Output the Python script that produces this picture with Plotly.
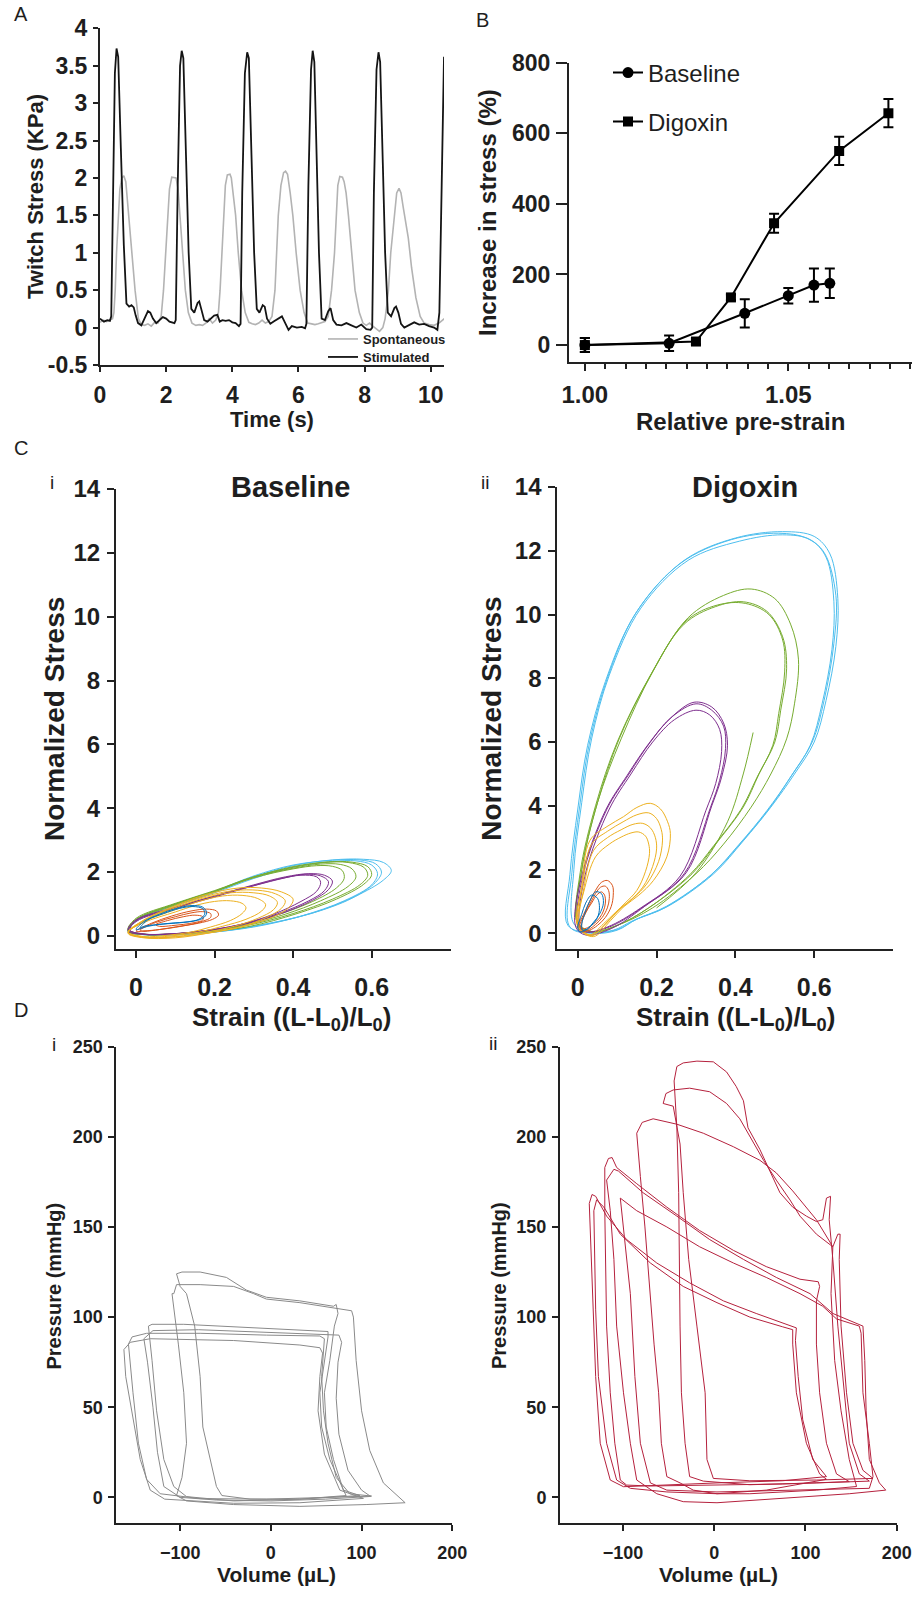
import plotly.graph_objects as go

W, H = 914, 1608
FONT = "Liberation Sans, Arial, sans-serif"
TXT = "#1e1e1e"
AX = "#222222"

# ---------------- Panel A : twitch stress vs time ----------------
stim_pts = [(0,0.12),(0.12,0.08),(0.22,0.1),(0.3,0.09),(0.34,0.15),(0.4,1.9),(0.45,3.4),(0.5,3.73),(0.55,3.62),(0.63,2.4),(0.72,1.1),(0.8,0.32),(0.88,0.28),(0.95,0.3),(1.02,0.27),(1.08,0.16),(1.15,0.06),(1.25,0.03),(1.35,0.12),(1.45,0.22),(1.52,0.2),(1.6,0.12),(1.7,0.06),(1.8,0.1),(1.9,0.14),(2.0,0.12),(2.1,0.08),(2.25,0.06),
            (2.29,0.1),(2.35,1.9),(2.42,3.5),(2.47,3.7),(2.52,3.6),(2.6,2.3),(2.68,1.0),(2.76,0.25),(2.85,0.2),(2.95,0.33),(3.0,0.35),(3.06,0.25),(3.15,0.1),(3.25,0.08),(3.35,0.12),(3.45,0.16),(3.55,0.17),(3.62,0.08),(3.7,0.1),(3.8,0.09),(3.9,0.1),(4.0,0.07),(4.1,0.06),(4.2,0.02),
            (4.25,0.05),(4.3,1.8),(4.38,3.4),(4.45,3.68),(4.5,3.6),(4.58,2.3),(4.66,1.0),(4.74,0.25),(4.82,0.2),(4.92,0.3),(4.98,0.28),(5.05,0.12),(5.15,0.05),(5.25,0.08),(5.4,0.12),(5.5,0.15),(5.6,0.06),(5.7,-0.03),(5.8,0.02),(5.95,0.0),(6.1,0.01),(6.2,-0.01),
            (6.24,0.05),(6.3,1.9),(6.38,3.45),(6.43,3.7),(6.48,3.55),(6.55,2.2),(6.62,1.0),(6.7,0.12),(6.8,0.1),(6.9,0.22),(6.97,0.26),(7.05,0.1),(7.15,0.04),(7.3,0.03),(7.45,0.06),(7.6,0.03),(7.75,0.0),(7.9,0.04),(8.05,-0.02),(8.18,-0.03),
            (8.23,0.0),(8.28,1.8),(8.36,3.45),(8.42,3.68),(8.47,3.55),(8.55,2.2),(8.62,1.0),(8.7,0.2),(8.8,0.15),(8.9,0.26),(8.95,0.28),(9.02,0.2),(9.1,0.05),(9.2,0.0),(9.35,0.04),(9.5,0.07),(9.65,0.04),(9.8,0.05),(9.95,0.02),(10.1,0.0),(10.2,-0.03),
            (10.26,0.2),(10.33,1.9),(10.4,3.62)]
spon_pts = [(0,0.07),(0.1,0.1),(0.2,0.08),(0.3,0.1),(0.38,0.12),(0.42,0.2),(0.46,0.5),(0.5,1.0),(0.55,1.5),(0.6,1.85),(0.66,2.0),(0.72,2.03),(0.78,1.95),(0.86,1.5),(0.96,1.0),(1.06,0.5),(1.16,0.12),(1.25,0.04),(1.35,0.03),(1.45,0.05),(1.55,0.02),(1.65,0.07),(1.75,0.06),(1.85,0.15),
            (1.92,0.5),(1.99,1.0),(2.05,1.5),(2.1,1.85),(2.17,2.01),(2.3,2.0),(2.36,1.85),(2.42,1.5),(2.5,1.0),(2.58,0.5),(2.67,0.2),(2.78,0.06),(2.9,0.03),(3.0,0.04),(3.1,0.03),(3.2,0.06),(3.3,0.12),(3.4,0.06),(3.5,0.1),
            (3.58,0.2),(3.63,0.5),(3.68,1.0),(3.73,1.5),(3.79,1.9),(3.85,2.04),(3.93,2.05),(3.97,2.0),(4.03,1.8),(4.1,1.5),(4.18,1.0),(4.28,0.5),(4.39,0.2),(4.5,0.07),(4.6,0.05),(4.7,0.04),(4.8,0.06),(4.9,0.1),(5.0,0.06),(5.1,0.08),(5.2,0.15),
            (5.29,0.5),(5.34,1.0),(5.39,1.5),(5.47,1.9),(5.55,2.07),(5.61,2.09),(5.67,2.05),(5.75,1.8),(5.83,1.5),(5.93,1.0),(6.05,0.5),(6.17,0.2),(6.28,0.06),(6.4,0.05),(6.5,0.04),(6.6,0.05),(6.7,0.06),(6.8,0.08),(6.9,0.15),
            (6.95,0.3),(7.0,0.5),(7.09,1.0),(7.14,1.5),(7.19,1.9),(7.25,2.02),(7.33,2.01),(7.38,1.95),(7.44,1.8),(7.51,1.5),(7.61,1.0),(7.71,0.5),(7.84,0.2),(7.95,0.06),(8.05,0.03),(8.15,0.06),(8.25,0.02),(8.35,-0.02),(8.45,-0.05),(8.55,0.0),
            (8.62,0.12),(8.67,0.3),(8.72,0.5),(8.79,1.0),(8.89,1.5),(8.97,1.8),(9.04,1.86),(9.1,1.8),(9.17,1.6),(9.32,1.2),(9.42,0.8),(9.55,0.4),(9.68,0.15),(9.8,0.06),(9.95,0.04),(10.1,0.03),(10.25,0.06),(10.41,0.12)]
a_ytick_vals = [-0.5, 0, 0.5, 1, 1.5, 2, 2.5, 3, 3.5, 4]
a_ytick_text = ["-0.5", "0", "0.5", "1", "1.5", "2", "2.5", "3", "3.5", "4"]

# ---------------- Panel B : increase in stress vs pre-strain ----------------
b_base_x = [1.000, 1.0207, 1.0393, 1.0500, 1.0563, 1.0602]
b_base_y = [0, 5, 90, 140, 170, 175]
b_base_err = [20, 22, 40, 22, 47, 42]
b_dig_x = [1.000, 1.0273, 1.0359, 1.0465, 1.0625, 1.0746]
b_dig_y = [0, 10, 135, 345, 550, 657]
b_dig_err = [20, 8, 8, 27, 40, 40]

# ---------------- Panel C i : baseline stress-strain loops ----------------
ci_cyan = [
 [(-0.02,0.15),(0.0,0.5),(0.1,1.0),(0.2,1.38),(0.3,1.85),(0.4,2.2),(0.5,2.38),(0.58,2.4),(0.63,2.3),(0.65,2.05),(0.63,1.75),(0.56,1.25),(0.45,0.72),(0.3,0.3),(0.2,0.12),(0.1,0.03),(0.03,0.03),(-0.02,0.15)],
 [(-0.02,0.12),(0.0,0.45),(0.1,0.95),(0.2,1.35),(0.3,1.8),(0.4,2.15),(0.5,2.33),(0.56,2.35),(0.6,2.22),(0.615,1.95),(0.6,1.6),(0.53,1.1),(0.42,0.62),(0.3,0.28),(0.18,0.1),(0.08,0.03),(0.02,0.04),(-0.02,0.12)],
 [(-0.015,0.18),(0.0,0.5),(0.1,0.98),(0.2,1.4),(0.3,1.88),(0.4,2.22),(0.5,2.37),(0.57,2.38),(0.61,2.26),(0.625,2.0),(0.61,1.68),(0.55,1.18),(0.44,0.68),(0.3,0.3),(0.19,0.12),(0.09,0.05),(0.02,0.05),(-0.015,0.18)],
]
ci_green = [
 [(-0.02,0.15),(0.0,0.5),(0.1,1.0),(0.2,1.4),(0.3,1.85),(0.4,2.15),(0.48,2.3),(0.54,2.3),(0.58,2.15),(0.59,1.9),(0.57,1.6),(0.5,1.15),(0.4,0.7),(0.28,0.32),(0.17,0.14),(0.08,0.05),(0.02,0.05),(-0.02,0.15)],
 [(-0.02,0.2),(0.0,0.55),(0.1,1.02),(0.2,1.42),(0.3,1.85),(0.4,2.12),(0.47,2.25),(0.52,2.24),(0.55,2.1),(0.56,1.85),(0.54,1.55),(0.47,1.1),(0.38,0.68),(0.27,0.32),(0.16,0.13),(0.07,0.05),(0.02,0.06),(-0.02,0.2)],
 [(-0.02,0.18),(0.0,0.52),(0.1,1.0),(0.2,1.4),(0.3,1.82),(0.4,2.1),(0.46,2.2),(0.5,2.18),(0.525,2.05),(0.53,1.8),(0.51,1.5),(0.45,1.08),(0.36,0.66),(0.26,0.32),(0.16,0.13),(0.07,0.05),(0.02,0.05),(-0.02,0.18)],
 [(-0.02,0.14),(0.0,0.48),(0.1,0.97),(0.2,1.38),(0.3,1.84),(0.4,2.17),(0.49,2.32),(0.55,2.31),(0.59,2.17),(0.6,1.92),(0.58,1.62),(0.51,1.15),(0.41,0.7),(0.29,0.3),(0.18,0.12),(0.08,0.04),(0.02,0.04),(-0.02,0.14)],
]
ci_purple = [
 [(-0.02,0.15),(0.0,0.45),(0.1,0.88),(0.2,1.25),(0.3,1.6),(0.38,1.85),(0.44,1.95),(0.48,1.9),(0.5,1.72),(0.49,1.45),(0.45,1.12),(0.37,0.7),(0.27,0.35),(0.17,0.15),(0.08,0.05),(0.02,0.05),(-0.02,0.15)],
 [(-0.02,0.2),(0.0,0.5),(0.1,0.9),(0.2,1.25),(0.3,1.58),(0.37,1.8),(0.42,1.9),(0.46,1.85),(0.47,1.68),(0.46,1.4),(0.42,1.08),(0.35,0.68),(0.26,0.34),(0.16,0.14),(0.08,0.06),(0.02,0.06),(-0.02,0.2)],
 [(-0.015,0.18),(0.0,0.48),(0.1,0.87),(0.2,1.22),(0.3,1.57),(0.38,1.82),(0.43,1.93),(0.47,1.88),(0.49,1.7),(0.48,1.42),(0.44,1.1),(0.36,0.69),(0.26,0.34),(0.16,0.14),(0.07,0.05),(0.02,0.05),(-0.015,0.18)],
]
ci_yellow = [
 [(-0.02,0.1),(0.02,0.5),(0.1,0.95),(0.18,1.3),(0.26,1.5),(0.32,1.5),(0.37,1.38),(0.4,1.15),(0.39,0.9),(0.35,0.6),(0.28,0.32),(0.2,0.12),(0.1,-0.03),(0.02,-0.05),(-0.02,0.1)],
 [(-0.02,0.12),(0.02,0.48),(0.1,0.88),(0.17,1.18),(0.24,1.35),(0.3,1.35),(0.34,1.25),(0.36,1.05),(0.35,0.82),(0.31,0.55),(0.25,0.3),(0.18,0.12),(0.1,-0.02),(0.02,-0.04),(-0.02,0.12)],
 [(-0.02,0.1),(0.02,0.45),(0.1,0.82),(0.16,1.08),(0.22,1.25),(0.27,1.27),(0.31,1.17),(0.33,0.98),(0.32,0.78),(0.28,0.52),(0.22,0.3),(0.16,0.12),(0.09,0.0),(0.02,-0.04),(-0.02,0.1)],
 [(-0.02,0.12),(0.02,0.42),(0.1,0.75),(0.15,0.95),(0.2,1.08),(0.24,1.1),(0.27,1.02),(0.28,0.88),(0.27,0.7),(0.24,0.48),(0.19,0.28),(0.14,0.12),(0.08,0.02),(0.02,-0.02),(-0.02,0.12)],
 [(-0.02,0.08),(0.02,0.48),(0.1,0.92),(0.18,1.25),(0.25,1.42),(0.31,1.43),(0.355,1.32),(0.38,1.1),(0.37,0.86),(0.33,0.57),(0.27,0.3),(0.19,0.1),(0.1,-0.06),(0.02,-0.06),(-0.02,0.08)],
]
ci_red = [
 [(0.0,0.15),(0.04,0.4),(0.09,0.62),(0.14,0.78),(0.18,0.84),(0.205,0.78),(0.21,0.65),(0.195,0.52),(0.16,0.4),(0.11,0.3),(0.06,0.2),(0.02,0.14),(0.0,0.15)],
 [(0.01,0.18),(0.05,0.42),(0.1,0.6),(0.14,0.72),(0.17,0.76),(0.19,0.7),(0.19,0.58),(0.17,0.46),(0.14,0.36),(0.1,0.27),(0.06,0.2),(0.02,0.16),(0.01,0.18)],
 [(0.05,0.35),(0.08,0.48),(0.12,0.6),(0.15,0.65),(0.17,0.6),(0.17,0.5),(0.15,0.42),(0.12,0.36),(0.09,0.32),(0.06,0.3),(0.05,0.35)],
]
ci_blue = [
 [(0.0,0.2),(0.02,0.45),(0.06,0.68),(0.1,0.85),(0.14,0.95),(0.17,0.9),(0.18,0.72),(0.17,0.55),(0.14,0.45),(0.1,0.4),(0.06,0.36),(0.03,0.3),(0.0,0.2)],
 [(0.01,0.25),(0.03,0.5),(0.07,0.7),(0.11,0.86),(0.145,0.92),(0.17,0.85),(0.175,0.68),(0.16,0.52),(0.13,0.44),(0.09,0.4),(0.05,0.35),(0.02,0.3),(0.01,0.25)],
]

# ---------------- Panel C ii : digoxin stress-strain loops ----------------
cii_cyan = [
 [(-0.02,0.2),(-0.015,1.9),(0.005,4.0),(0.03,6.0),(0.075,8.0),(0.15,10.1),(0.27,11.7),(0.4,12.4),(0.52,12.6),(0.6,12.45),(0.64,11.9),(0.66,10.5),(0.655,9.0),(0.63,7.3),(0.6,6.0),(0.55,5.0),(0.49,3.96),(0.42,2.9),(0.345,1.87),(0.226,0.83),(0.15,0.45),(0.1,0.1),(0.04,0.0),(-0.02,0.2)],
 [(-0.01,0.3),(-0.01,2.0),(0.01,4.1),(0.035,6.1),(0.08,8.1),(0.16,10.2),(0.28,11.7),(0.41,12.3),(0.52,12.5),(0.59,12.35),(0.63,11.8),(0.65,10.4),(0.645,8.9),(0.62,7.2),(0.59,5.9),(0.54,4.9),(0.48,3.85),(0.41,2.8),(0.335,1.8),(0.22,0.8),(0.14,0.4),(0.09,0.1),(0.03,0.05),(-0.01,0.3)],
 [(-0.025,0.25),(-0.02,1.85),(0.0,3.9),(0.025,5.9),(0.07,7.9),(0.145,10.0),(0.26,11.6),(0.39,12.35),(0.51,12.55),(0.58,12.4),(0.625,11.95),(0.655,10.6),(0.65,9.1),(0.625,7.3),(0.595,6.0),(0.545,5.0),(0.485,3.9),(0.415,2.85),(0.34,1.85),(0.225,0.85),(0.15,0.45),(0.1,0.12),(0.035,0.02),(-0.025,0.25)],
]
cii_green = [
 [(0.0,0.3),(0.006,1.9),(0.045,4.0),(0.1,6.0),(0.18,8.0),(0.27,9.7),(0.35,10.25),(0.42,10.4),(0.48,10.1),(0.52,9.3),(0.53,8.3),(0.515,7.0),(0.5,6.0),(0.46,5.0),(0.42,3.96),(0.35,2.8),(0.29,1.87),(0.18,0.8),(0.1,0.25),(0.04,0.05),(0.0,0.3)],
 [(0.0,0.35),(0.01,2.0),(0.05,4.1),(0.105,6.1),(0.185,8.1),(0.275,9.8),(0.355,10.3),(0.425,10.35),(0.485,10.0),(0.52,9.2),(0.525,8.2),(0.51,6.9),(0.495,5.9),(0.455,4.9),(0.415,3.9),(0.345,2.75),(0.285,1.85),(0.18,0.8),(0.1,0.25),(0.04,0.05),(0.0,0.35)],
 [(0.0,0.3),(0.01,2.0),(0.05,4.1),(0.11,6.1),(0.19,8.2),(0.28,9.9),(0.37,10.6),(0.44,10.8),(0.5,10.5),(0.54,9.7),(0.56,8.6),(0.55,7.2),(0.53,6.1),(0.49,5.0),(0.44,3.96),(0.37,2.8),(0.3,1.87),(0.19,0.8),(0.1,0.25),(0.04,0.05),(0.0,0.3)],
 [(0.2,0.8),(0.3,1.9),(0.38,3.5),(0.42,5.0),(0.445,6.3)],
]
cii_purple = [
 [(0.0,0.3),(0.014,1.87),(0.074,3.9),(0.13,5.0),(0.184,6.0),(0.24,6.8),(0.3,7.2),(0.34,7.0),(0.37,6.5),(0.375,5.8),(0.36,4.8),(0.337,3.96),(0.27,1.87),(0.166,0.83),(0.08,0.2),(0.02,0.05),(0.0,0.3)],
 [(0.005,0.25),(0.02,1.9),(0.08,3.9),(0.135,5.0),(0.19,6.0),(0.245,6.7),(0.3,7.0),(0.335,6.85),(0.36,6.4),(0.365,5.7),(0.35,4.7),(0.325,3.85),(0.26,1.8),(0.16,0.8),(0.075,0.2),(0.02,0.05),(0.005,0.25)],
 [(-0.005,0.2),(0.01,1.8),(0.07,3.85),(0.125,4.95),(0.18,5.95),(0.235,6.75),(0.295,7.25),(0.34,7.1),(0.37,6.6),(0.38,5.9),(0.365,4.9),(0.34,4.0),(0.275,1.9),(0.17,0.85),(0.085,0.15),(0.02,-0.05),(-0.005,0.2)],
]
cii_yellow = [
 [(0.0,0.2),(0.01,1.5),(0.031,2.92),(0.074,3.35),(0.116,3.66),(0.15,3.95),(0.184,4.08),(0.21,3.9),(0.228,3.5),(0.235,3.13),(0.226,2.4),(0.192,1.66),(0.155,1.2),(0.116,0.83),(0.083,0.4),(0.04,-0.1),(0.0,0.2)],
 [(0.0,0.25),(0.012,1.5),(0.035,2.8),(0.075,3.2),(0.115,3.5),(0.15,3.72),(0.18,3.78),(0.2,3.6),(0.212,3.25),(0.215,2.9),(0.205,2.25),(0.175,1.55),(0.14,1.1),(0.105,0.75),(0.075,0.35),(0.035,-0.05),(0.0,0.25)],
 [(0.005,0.2),(0.015,1.4),(0.04,2.6),(0.075,3.0),(0.11,3.25),(0.14,3.42),(0.165,3.45),(0.185,3.3),(0.197,3.0),(0.2,2.65),(0.19,2.1),(0.165,1.45),(0.13,1.0),(0.1,0.7),(0.07,0.3),(0.035,-0.08),(0.005,0.2)],
 [(0.0,0.3),(0.015,1.3),(0.045,2.4),(0.08,2.8),(0.11,3.02),(0.135,3.15),(0.155,3.18),(0.172,3.05),(0.18,2.8),(0.182,2.5),(0.172,1.95),(0.15,1.35),(0.12,0.95),(0.095,0.65),(0.065,0.3),(0.03,-0.05),(0.0,0.3)],
]
cii_red = [
 [(0.0,0.2),(0.015,0.6),(0.03,1.0),(0.045,1.35),(0.06,1.6),(0.075,1.66),(0.088,1.5),(0.09,1.2),(0.085,0.85),(0.07,0.5),(0.05,0.25),(0.03,0.1),(0.01,0.05),(0.0,0.2)],
 [(0.005,0.25),(0.018,0.6),(0.032,0.95),(0.045,1.25),(0.058,1.45),(0.07,1.48),(0.078,1.35),(0.08,1.1),(0.075,0.8),(0.062,0.5),(0.045,0.28),(0.028,0.13),(0.012,0.08),(0.005,0.25)],
 [(0.01,0.3),(0.02,0.65),(0.035,0.95),(0.048,1.2),(0.06,1.3),(0.068,1.2),(0.07,0.95),(0.065,0.7),(0.055,0.48),(0.04,0.3),(0.025,0.18),(0.012,0.15),(0.01,0.3)],
]
cii_blue = [
 [(0.0,0.2),(0.01,0.6),(0.02,0.95),(0.035,1.2),(0.05,1.1),(0.055,0.8),(0.05,0.5),(0.035,0.25),(0.02,0.1),(0.005,0.05),(0.0,0.2)],
 [(0.01,0.3),(0.02,0.7),(0.03,1.0),(0.045,1.3),(0.06,1.25),(0.065,0.95),(0.055,0.6),(0.04,0.35),(0.025,0.15),(0.012,0.1),(0.01,0.3)],
]

# ---------------- Panel D i : baseline pressure-volume loops ----------------
di_loops = [
 [(-104,124),(-98,125),(-78,125),(-49,122),(-27,115),(-5,111),(32,109),(69,106),(72,107),(74,102),(70,95),(65,76),(59,58),(61,39),(69,21),(80,4),(83,1),(32,-1),(-23,-1),(-54,1),(-60,6),(-67,21),(-75,39),(-78,67),(-84,95),(-93,113),(-100,117),(-104,124)],
 [(-107,113),(-104,118),(-78,118),(-41,117),(-19,113),(-5,110),(32,108),(69,105),(89,103.5),(91,100),(94,76),(100,48),(109,26),(124,8),(148,-3),(105,-4),(32,-5),(-41,-4),(-93,-2),(-104,1),(-98,11),(-93,30),(-96,58),(-102,85),(-107,104),(-109,113),(-107,113)],
 [(-135,95),(-131,96),(-96,96),(-60,95),(-23,94),(14,93),(63,92),(63,89),(59,76),(54,58),(56,39),(65,21),(80,4),(98,1),(32,-1),(-41,-2),(-93,0.4),(-107,6),(-118,21),(-126,48),(-131,76),(-135,95)],
 [(-157,85),(-153,89),(-137,91),(-78,91),(-5,90),(54,89.5),(59,88),(58,80),(56,67),(58,48),(63,30),(72,11),(87,2),(111,0.7),(69,0),(-5,-1),(-78,-0.7),(-122,2),(-137,10),(-146,30),(-152,58),(-155,76),(-157,85)],
 [(-162,82),(-155,86),(-133,88),(-41,87),(32,84.5),(54,83),(57,80),(54,67),(52,48),(59,24),(76,4),(102,-0.6),(32,-3),(-41,-3.3),(-117,-1),(-133,4),(-144,21),(-153,48),(-160,67),(-162,82)],
 [(-140,88),(-130,92.5),(-80,93),(-20,92),(40,91),(75,90),(78,86),(74,75),(72,55),(75,35),(85,15),(100,4),(110,0.5),(60,-1),(0,-2),(-60,-1.5),(-100,0),(-118,6),(-125,25),(-130,50),(-136,75),(-140,88)],
]

# ---------------- Panel D ii : digoxin pressure-volume loops ----------------
dii_loops = [
 [(-44,231),(-41,239),(-34,241),(-19,242),(-1,241.6),(13.5,236),(24,228),(32,220),(37,205),(50,193),(61,181),(72,169),(86,161),(101,156),(112,153),(119,154),(123,166),(127.5,167),(126,154),(130,132),(135.5,95),(143,58),(148,30),(159,13),(170,9),(112,8),(39,7),(-12,9),(-27,11.5),(-32,30),(-36,58),(-37.5,95),(-38,132),(-39,169),(-41,205),(-44,231)],
 [(-56,218.5),(-53,224),(-45,226),(-27,227),(-5,225),(13.5,218.5),(28,210),(39,200),(54,187),(68,176),(83,165),(94,156),(112,146),(130,139),(135.5,146),(138,146),(137,132),(139,95),(145,58),(152,30),(163,15),(174,10.5),(112,9.6),(39,9.2),(-1,10.5),(-8,21),(-10,58),(-19,95),(-28,132),(-34,169),(-37.5,196),(-45,217),(-56,218.5)],
 [(-85,202),(-79,208),(-67,210),(-41,207),(-12,202),(21,194.5),(50,187),(68,180),(86,170),(97,163),(112,154),(130,139),(128,113),(132,76),(139,48),(148,21),(156,6),(112,4),(39,2),(3,2),(-23,4),(-37.5,8),(-52,11.5),(-58,30),(-61,58),(-66,85),(-70,113),(-76,150),(-81,178),(-85,202)],
 [(-120,183),(-116,188),(-112,188.5),(-107,183),(-85,174),(-52,161),(-16,148),(21,137),(57,128),(94,121),(114,119.6),(115.5,117),(112,109),(112,85),(115.5,58),(123,30),(134,13),(148,8.7),(75,7.4),(3,6.7),(-70,6.3),(-96,6.8),(-103,9.6),(-109,30),(-114,58),(-118,95),(-119.5,132),(-120,159),(-120,183)],
 [(-118,176),(-110,182),(-105,181),(-78,169),(-41,156),(-5,143),(32,132),(68,122),(105,113),(130,102),(163,95),(165,76),(166.5,48),(170,21),(181,8),(188,4),(148,2),(75,-0.6),(3,-3),(-34,-2.4),(-63,2),(-85,9.6),(-92,30),(-99.5,58),(-107,95),(-110,132),(-114,159),(-118,176)],
 [(-137,163),(-134,168),(-130,167),(-118,156),(-96,143),(-63,130),(-27,119),(10,109),(46,102),(75,96.5),(90,94),(89,87),(92,67),(97,43),(108,21),(123,11.5),(75,9.2),(3,8),(-70,6.8),(-99.5,5.9),(-114,9.6),(-125,30),(-130,67),(-133,104),(-136,141),(-137,163)],
 [(-132,159),(-129,165),(-121,161),(-103,146),(-70,130),(-34,117),(3,108),(39,100),(75,94.6),(86,93),(86,85),(90,58),(101,30),(115.5,13),(123,10),(57,4),(3,2),(-52,3),(-92,5),(-107,9.6),(-118,30),(-127,67),(-130,104),(-132,159)],
 [(-103,166),(-85,159),(-52,150),(-16,139),(21,130),(57,122),(94,113),(119,106),(134,99),(159,95),(161,91),(163,58),(170,30),(174,11.5),(170,5),(75,4),(3,3),(-52,4),(-70,8),(-81,30),(-87,67),(-92,113),(-99.5,150),(-103,166)],
]

# ---------------- colours ----------------
C_CYAN, C_GREEN, C_PURPLE = "#4DBEEE", "#77AC30", "#7E2F8E"
C_YELLOW, C_RED, C_BLUE = "#EDB120", "#D95319", "#0072BD"
C_GRAYD = "#8a8a8a"
C_CRIMSON = "#b5213d"


def px(xp, yp):
    return xp / W, 1 - yp / H


def dom_x(a, b):
    return [a / W, b / W]


def dom_y(top, bottom):
    return [1 - bottom / H, 1 - top / H]


fig = go.Figure()

# Panel A
sx, sy = zip(*spon_pts)
fig.add_trace(go.Scatter(x=sx, y=sy, mode="lines", name="Spontaneous", line=dict(color="#b3b3b3", width=1.6),
                         xaxis="x", yaxis="y", legend="legend"))
tx, ty = zip(*stim_pts)
fig.add_trace(go.Scatter(x=tx, y=ty, mode="lines", name="Stimulated", line=dict(color="#141414", width=1.8),
                         xaxis="x", yaxis="y", legend="legend2"))

# Panel B
fig.add_trace(go.Scatter(x=b_base_x, y=b_base_y, mode="lines+markers", name="Baseline",
                         line=dict(color="#000", width=2), marker=dict(symbol="circle", size=11, color="#000"),
                         error_y=dict(type="data", array=b_base_err, visible=True, color="#000", thickness=2, width=5),
                         xaxis="x2", yaxis="y2", legend="legend3"))
fig.add_trace(go.Scatter(x=b_dig_x, y=b_dig_y, mode="lines+markers", name="Digoxin",
                         line=dict(color="#000", width=2), marker=dict(symbol="square", size=10, color="#000"),
                         error_y=dict(type="data", array=b_dig_err, visible=True, color="#000", thickness=2, width=5),
                         xaxis="x2", yaxis="y2", legend="legend4"))


def add_loops(loops, color, xa, ya, width=1.0, shape="spline"):
    for lp in loops:
        lx, ly = zip(*lp)
        fig.add_trace(go.Scatter(x=lx, y=ly, mode="lines", line=dict(color=color, width=width, shape=shape),
                                 showlegend=False, xaxis=xa, yaxis=ya, hoverinfo="skip"))


for loops, col in [(ci_cyan, C_CYAN), (ci_green, C_GREEN), (ci_purple, C_PURPLE),
                   (ci_yellow, C_YELLOW), (ci_red, C_RED), (ci_blue, C_BLUE)]:
    add_loops(loops, col, "x3", "y3")
for loops, col in [(cii_cyan, C_CYAN), (cii_green, C_GREEN), (cii_purple, C_PURPLE),
                   (cii_yellow, C_YELLOW), (cii_red, C_RED), (cii_blue, C_BLUE)]:
    add_loops(loops, col, "x4", "y4")
add_loops(di_loops, C_GRAYD, "x5", "y5", width=1.0, shape="linear")
add_loops(dii_loops, C_CRIMSON, "x6", "y6", width=1.0, shape="linear")


def axis(size, ticklen, **kw):
    d = dict(showline=True, linecolor=AX, linewidth=2, ticks="outside", tickcolor=AX, tickwidth=2,
             ticklen=ticklen, showgrid=False, zeroline=False, fixedrange=True, automargin=False,
             tickfont=dict(family=FONT, size=size, color=TXT, weight="bold"))
    d.update(kw)
    return d


layout = dict(
    template="none",
    width=W, height=H, margin=dict(l=0, r=0, t=0, b=0, pad=0, autoexpand=False),
    paper_bgcolor="white", plot_bgcolor="white", showlegend=True,
    xaxis=axis(23, 5, domain=dom_x(100, 444), range=[0, 10.4], anchor="y", tickmode="linear", tick0=0, dtick=2,
               ticklabelstandoff=3),
    yaxis=axis(23, 5, domain=dom_y(28.3, 365), range=[-0.5, 4], anchor="x", tickvals=a_ytick_vals,
               ticktext=a_ytick_text, ticklabelstandoff=1),
    xaxis2=axis(24, 7, domain=dom_x(569, 912), range=[0.9961, 1.0804], anchor="y2", tickmode="linear",
                tick0=1.0, dtick=0.05, tickformat=".2f", ticklabelstandoff=3,
                minor=dict(tickmode="linear", tick0=1.0, dtick=0.005, ticks="outside", ticklen=5,
                           tickwidth=2, tickcolor=AX, showgrid=False)),
    yaxis2=axis(23, 11, domain=dom_y(62.7, 362), range=[-48, 800], anchor="x2", tickmode="linear",
                tick0=0, dtick=200, ticklabelstandoff=1),
    xaxis3=axis(25, 7, domain=dom_x(116, 451), range=[-0.051, 0.802], anchor="y3",
                tickvals=[0, 0.2, 0.4, 0.6], ticktext=["0", "0.2", "0.4", "0.6"], ticklabelstandoff=8),
    yaxis3=axis(24, 7, domain=dom_y(489, 949), range=[-0.41, 14.0], anchor="x3", tickmode="linear",
                tick0=0, dtick=2, ticklabelstandoff=2),
    xaxis4=axis(25, 7, domain=dom_x(557.3, 893), range=[-0.052, 0.80], anchor="y4",
                tickvals=[0, 0.2, 0.4, 0.6], ticktext=["0", "0.2", "0.4", "0.6"], ticklabelstandoff=8),
    yaxis4=axis(24, 7, domain=dom_y(487, 948.7), range=[-0.48, 14.0], anchor="x4", tickmode="linear",
                tick0=0, dtick=2, ticklabelstandoff=2),
    xaxis5=axis(18, 6, domain=dom_x(116.3, 452.3), range=[-170.4, 200], anchor="y5",
                tickvals=[-100, 0, 100, 200], ticklabelstandoff=6),
    yaxis5=axis(18, 6, domain=dom_y(1046.7, 1523.3), range=[-14.4, 250], anchor="x5", tickmode="linear",
                tick0=0, dtick=50, ticklabelstandoff=2),
    xaxis6=axis(18, 6, domain=dom_x(560, 896.7), range=[-169.1, 200], anchor="y6",
                tickvals=[-100, 0, 100, 200], ticklabelstandoff=6, ticklabeloverflow="allow"),
    yaxis6=axis(18, 6, domain=dom_y(1046.7, 1523.3), range=[-14.4, 250], anchor="x6", tickmode="linear",
                tick0=0, dtick=50, ticklabelstandoff=2),
)


def leg(xp, yp, size, bold):
    x, y = px(xp, yp)
    return dict(x=x, y=y, xanchor="left", yanchor="middle", bgcolor="rgba(0,0,0,0)", borderwidth=0,
                itemwidth=30, tracegroupgap=0,
                font=dict(family=FONT, size=size, color=TXT, weight="bold" if bold else "normal"))


layout["legend"] = leg(323, 339, 13, True)
layout["legend2"] = leg(323, 357, 13, True)
layout["legend3"] = leg(608, 73, 24, False)
layout["legend4"] = leg(608, 122, 24, False)

fig.update_layout(**layout)


def ann(text, xp, yp, size, bold=False, angle=0):
    x, y = px(xp, yp)
    fig.add_annotation(text=text, x=x, y=y, xref="paper", yref="paper", showarrow=False, textangle=angle,
                       xanchor="center", yanchor="middle",
                       font=dict(family=FONT, size=size, color=TXT, weight="bold" if bold else "normal"))


# panel letters
ann("A", 21, 14, 20)
ann("B", 482, 20, 20)
ann("C", 21, 448, 20)
ann("D", 21, 1010, 20)
ann("i", 52, 482, 19)
ann("ii", 485, 482, 19)
ann("i", 54, 1044, 19)
ann("ii", 493, 1043, 19)

# axis titles
ann("Twitch Stress (KPa)", 36, 197, 22, True, -90)
ann("Time (s)", 272, 420, 22, True)
ann("Increase in stress (%)", 487, 212, 24, True, -90)
ann("Relative pre-strain", 740, 421, 24, True)
ann("Baseline", 290, 487, 29, True)
ann("Digoxin", 744.5, 487, 29, True)
ann("Normalized Stress", 55, 719, 28, True, -90)
ann("Normalized Stress", 491.7, 719, 28, True, -90)
ann("Strain ((L-L<sub>0</sub>)/L<sub>0</sub>)", 291, 1018, 26, True)
ann("Strain ((L-L<sub>0</sub>)/L<sub>0</sub>)", 735, 1018, 26, True)
ann("Pressure (mmHg)", 53.5, 1286, 20, True, -90)
ann("Pressure (mmHg)", 499, 1286, 20, True, -90)
ann("Volume (µL)", 276.7, 1574, 21, True)
ann("Volume (µL)", 718.5, 1574, 21, True)

fig.write_html("out.html", config={"displayModeBar": False, "staticPlot": False},
               post_script="document.documentElement.style.margin='0';document.body.style.margin='0';"
                           "document.documentElement.style.overflow='hidden';document.body.style.overflow='hidden';")
